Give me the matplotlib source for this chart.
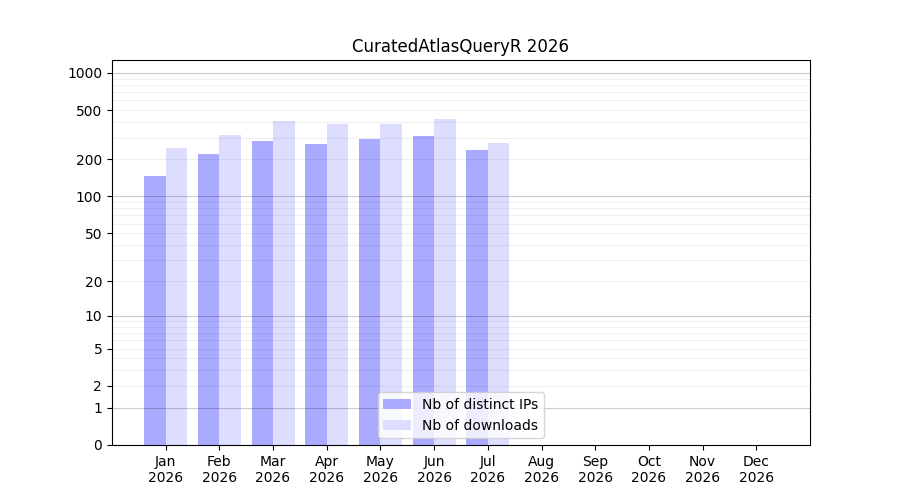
import numpy as np
import matplotlib
matplotlib.use("Agg")
import matplotlib.pyplot as plt

months = ["Jan", "Feb", "Mar", "Apr", "May", "Jun", "Jul", "Aug", "Sep", "Oct", "Nov", "Dec"]
year = "2026"
nb_ips = [146, 221, 282, 266, 293, 309, 238, 0, 0, 0, 0, 0]
nb_downloads = [248, 315, 409, 387, 387, 425, 272, 0, 0, 0, 0, 0]
ytick_values = [0, 1, 2, 5, 10, 20, 50, 100, 200, 500, 1000]
major_grid = [1, 10, 100, 1000]
minor_grid = [2, 3, 4, 5, 6, 7, 8, 9, 20, 30, 40, 50, 60, 70, 80, 90,
              200, 300, 400, 500, 600, 700, 800, 900]

def tr(v):
    return np.log10(1 + np.asarray(v, dtype=float))

fig = plt.figure(figsize=(9, 5), dpi=100)
ax = fig.add_axes([0.1244, 0.11, 0.7756, 0.77])

x = np.arange(1, 13)
ax.bar(x, tr(nb_ips), width=-0.4, align="edge", color="#aaaaff", label="Nb of distinct IPs", zorder=1)
ax.bar(x, tr(nb_downloads), width=0.4, align="edge", color="#ddddff", label="Nb of downloads", zorder=1)

for v in major_grid:
    ax.axhline(tr(v), color="black", alpha=0.2, linewidth=0.8, zorder=2)
for v in minor_grid:
    ax.axhline(tr(v), color="black", alpha=0.06, linewidth=0.8, zorder=2)

ax.set_xlim(0, 13)
ax.set_ylim(0, 3.105)
ax.set_xticks(x)
ax.set_xticklabels([f"{m}\n{year}" for m in months])
ax.set_yticks(tr(ytick_values))
ax.set_yticklabels([str(v) for v in ytick_values])
ax.set_title("CuratedAtlasQueryR 2026")
ax.legend(loc="lower center")

fig.savefig("out.png", dpi=100)
